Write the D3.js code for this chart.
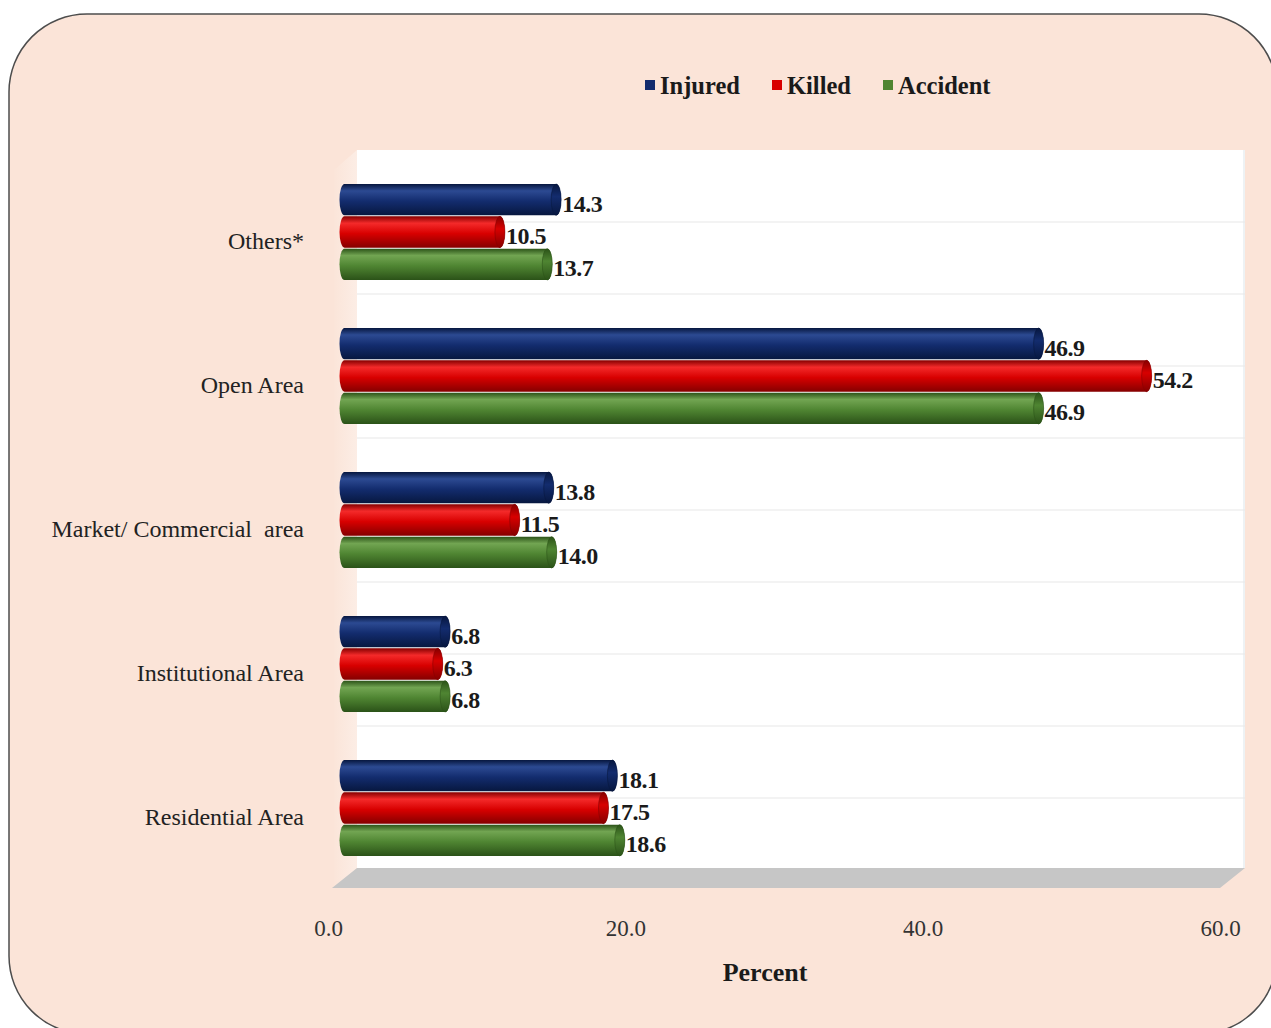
<!DOCTYPE html>
<html>
<head>
<meta charset="utf-8">
<script src="https://cdn.jsdelivr.net/npm/d3@7"></script>
<style>
  html, body { margin: 0; padding: 0; background: #ffffff; }
  svg { display: block; }
</style>
</head>
<body>
<script>
// ---- Data ----
const categories = ["Others*", "Open Area", "Market/ Commercial  area", "Institutional Area", "Residential Area"];
const seriesNames = ["Injured", "Killed", "Accident"];
const injured  = [14.3, 46.9, 13.8, 6.8, 18.1];
const killed   = [10.5, 54.2, 11.5, 6.3, 17.5];
const accident = [13.7, 46.9, 14.0, 6.8, 18.6];
const tickValues = [0, 20, 40, 60];
const axisTitle = "Percent";

const seriesValues = { Injured: injured, Killed: killed, Accident: accident };
const colors = {
  Injured:  { dark: "#07173f", base: "#132c6e", light: "#2c4a92" },
  Killed:   { dark: "#850000", base: "#d80000", light: "#f42a2a" },
  Accident: { dark: "#2b5218", base: "#4f8532", light: "#72a552" }
};

const W = 1271, H = 1028;
const svg = d3.select("body").append("svg").attr("width", W).attr("height", H)
  .style("font-family", "'Liberation Serif', 'Times New Roman', serif");

const defs = svg.append("defs");
seriesNames.forEach(s => {
  const c = colors[s];
  const g = defs.append("linearGradient").attr("id", "grad-" + s)
    .attr("x1", 0).attr("y1", 0).attr("x2", 0).attr("y2", 1);
  g.append("stop").attr("offset", "0%").attr("stop-color", c.dark);
  g.append("stop").attr("offset", "22%").attr("stop-color", c.light);
  g.append("stop").attr("offset", "55%").attr("stop-color", c.base);
  g.append("stop").attr("offset", "100%").attr("stop-color", c.dark);
  const f = defs.append("linearGradient").attr("id", "face-" + s)
    .attr("x1", 0).attr("y1", 0).attr("x2", 0).attr("y2", 1);
  f.append("stop").attr("offset", "0%").attr("stop-color", c.dark);
  f.append("stop").attr("offset", "40%").attr("stop-color", c.base);
  f.append("stop").attr("offset", "100%").attr("stop-color", c.dark);
});
const sideGrad = defs.append("linearGradient").attr("id", "sidewall")
  .attr("x1", 0).attr("y1", 0).attr("x2", 1).attr("y2", 0);
sideGrad.append("stop").attr("offset", "0%").attr("stop-color", "#fbe5d9");
sideGrad.append("stop").attr("offset", "100%").attr("stop-color", "#fcede5");

// ---- Background panel ----
svg.append("rect").attr("x", 9).attr("y", 14).attr("width", 1268).attr("height", 1020)
  .attr("rx", 78).attr("ry", 78)
  .attr("fill", "#fbe4d8").attr("stroke", "#4d4d4d").attr("stroke-width", 1.5);

// ---- Scales ----
const wallTop = 150, wallBottom = 868, depthX = 25, depthY = 20;
const xBack  = d3.scaleLinear().domain([0, 60]).range([357, 1245]);
const xMid   = d3.scaleLinear().domain([0, 60]).range([357 - depthX / 2, 1245 - depthX / 2]);
const xFront = d3.scaleLinear().domain([0, 60]).range([328, 1220]);
const yMid = d3.scaleBand().domain(categories).range([wallTop + depthY / 2, wallBottom + depthY / 2 + 2]);
const yInner = d3.scaleBand().domain(seriesNames).range([0, 96]).paddingInner(0.03);

// ---- 3D walls ----
svg.append("polygon")
  .attr("points", [[xBack(0), wallTop], [xFront(0) + 6, wallTop + depthY], [xFront(0) + 6, wallBottom + depthY], [xBack(0), wallBottom]].map(p => p.join(",")).join(" "))
  .attr("fill", "url(#sidewall)");
svg.append("rect").attr("x", xBack(0)).attr("y", wallTop)
  .attr("width", xBack(60) - xBack(0)).attr("height", wallBottom - wallTop)
  .attr("fill", "#ffffff");
svg.append("line").attr("x1", xBack(60) - 1).attr("x2", xBack(60) - 1)
  .attr("y1", wallTop).attr("y2", wallBottom).attr("stroke", "#eef2f4").attr("stroke-width", 2);

const gridYs = d3.range(1, categories.length * 2).map(i => wallTop + i * (wallBottom + 2 - wallTop) / (categories.length * 2));
svg.append("g").selectAll("line").data(gridYs).join("line")
  .attr("x1", xBack(0)).attr("x2", xBack(60))
  .attr("y1", d => d).attr("y2", d => d)
  .attr("stroke", "#e8e8e8").attr("stroke-width", 1.2);

svg.append("polygon")
  .attr("points", [[xBack(0), wallBottom], [xBack(60), wallBottom], [xFront(60), wallBottom + depthY], [xFront(0) + 4, wallBottom + depthY]].map(p => p.join(",")).join(" "))
  .attr("fill", "#c6c6c6");

// ---- Bars (cylinders) ----
const capRx = 5;
const groups = svg.append("g").selectAll("g.cat").data(categories).join("g")
  .attr("class", "cat")
  .attr("transform", d => `translate(0,${yMid(d) + (yMid.bandwidth() - 96) / 2})`);

seriesNames.forEach(s => {
  groups.each(function(cat, i) {
    const v = seriesValues[s][i];
    const g = d3.select(this);
    const x0 = xMid(0), x1 = xMid(v);
    const y0 = yInner(s), h = yInner.bandwidth(), ry = h / 2;
    g.append("path")
      .attr("d", `M${x0},${y0} L${x1},${y0} A${capRx},${ry} 0 0 1 ${x1},${y0 + h} L${x0},${y0 + h} A${capRx},${ry} 0 0 1 ${x0},${y0} Z`)
      .attr("fill", `url(#grad-${s})`);
    g.append("ellipse")
      .attr("cx", x1).attr("cy", y0 + ry).attr("rx", capRx).attr("ry", ry)
      .attr("fill", `url(#face-${s})`)
      .attr("stroke", colors[s].dark).attr("stroke-width", 0.8).attr("stroke-opacity", 0.7);
    g.append("text")
      .attr("x", x1 + capRx + 1).attr("y", y0 + ry + 4)
      .attr("dominant-baseline", "central")
      .attr("font-size", 24).attr("font-weight", "bold").attr("fill", "#1a1a1a")
      .attr("letter-spacing", -0.5)
      .text(d3.format(".1f")(v));
  });
});

// ---- Category labels ----
svg.append("g").selectAll("text").data(categories).join("text")
  .attr("x", 304).attr("y", d => yMid(d) + yMid.bandwidth() / 2 + 9)
  .attr("text-anchor", "end").attr("dominant-baseline", "central")
  .attr("font-size", 24).attr("fill", "#222")
  .style("white-space", "pre")
  .text(d => d);

// ---- X axis ----
const axis = d3.axisBottom(xFront).tickValues(tickValues).tickFormat(d3.format(".1f")).tickSize(0).tickPadding(0);
const axG = svg.append("g").attr("transform", `translate(0,920)`).call(axis);
axG.select(".domain").remove();
axG.selectAll("text").attr("font-size", 23).attr("fill", "#333")
  .attr("font-family", "'Liberation Serif', 'Times New Roman', serif");

svg.append("text").attr("x", 765).attr("y", 981).attr("text-anchor", "middle")
  .attr("font-size", 26).attr("font-weight", "bold").attr("fill", "#1a1a1a")
  .text(axisTitle);

// ---- Legend ----
const legendX = [645, 772, 883];
const leg = svg.append("g").selectAll("g").data(seriesNames).join("g")
  .attr("transform", (d, i) => `translate(${legendX[i]},0)`);
leg.append("rect").attr("x", 0).attr("y", 80).attr("width", 10).attr("height", 10)
  .attr("fill", d => colors[d].base);
leg.append("text").attr("x", 15).attr("y", 94)
  .attr("font-size", 24.5).attr("font-weight", "bold").attr("fill", "#1a1a1a")
  .text(d => d);
</script>
</body>
</html>
